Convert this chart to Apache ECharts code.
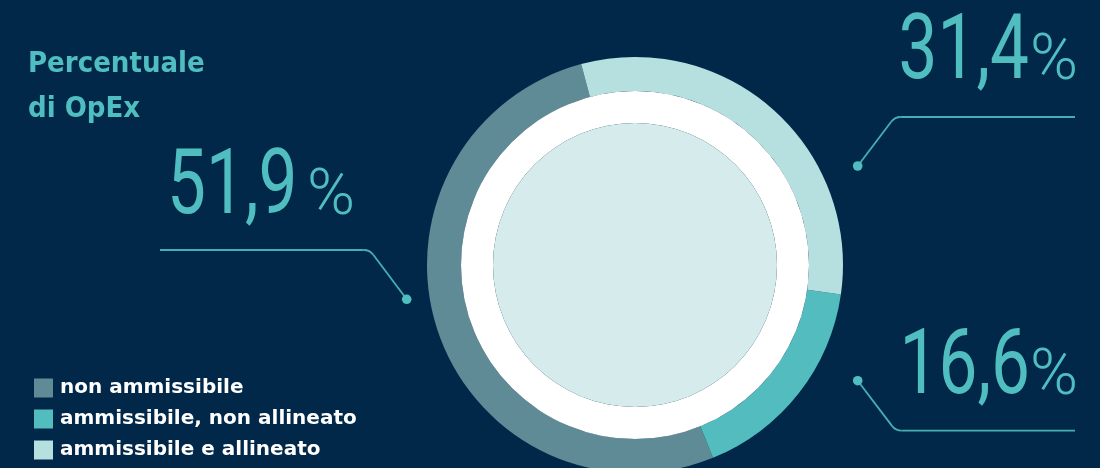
<!DOCTYPE html>
<html>
<head>
<meta charset="utf-8">
<script src="https://cdn.jsdelivr.net/npm/echarts@6/dist/echarts.min.js"></script>
<style>
  html, body { margin: 0; padding: 0; background: #012849; }
  #chart { width: 1100px; height: 468px; }
</style>
</head>
<body>
<div id="chart"></div>
<script>
// ---- data ----
const categories = ['non ammissibile', 'ammissibile, non allineato', 'ammissibile e allineato'];
const values = [51.9, 16.6, 31.4];
const colors = ['#5f8b96', '#52bcbe', '#b6dfe0'];
const titleText = 'Percentuale\ndi OpEx';

const fmt = v => v.toFixed(1).replace('.', ',');
const TEAL = '#50bec0';
const LINE = '#45afb3';

const chart = echarts.init(document.getElementById('chart'), null, { renderer: 'canvas' });

function leader(p0, c0, c, c1, p1, dot) {
  const st = { stroke: LINE, lineWidth: 1.8, fill: null };
  return [
    { type: 'line', silent: true, shape: { x1: p0[0], y1: p0[1], x2: c0[0], y2: c0[1] }, style: st },
    { type: 'bezierCurve', silent: true, shape: { x1: c0[0], y1: c0[1], cpx1: c[0], cpy1: c[1], x2: c1[0], y2: c1[1] }, style: st },
    { type: 'line', silent: true, shape: { x1: c1[0], y1: c1[1], x2: p1[0], y2: p1[1] }, style: st },
    { type: 'circle', silent: true, shape: { cx: dot[0], cy: dot[1], r: 4.8 }, style: { fill: TEAL } }
  ];
}

// big percentage label: digits (condensed) + percent sign, aligned on a common baseline
const NUM_FS = 90, PCT_FS = 65;
function bigLabel(value, numX, pctX, baseline, align) {
  return [
    {
      type: 'text', x: numX, y: baseline + 0.21 * NUM_FS, scaleX: 0.77, silent: true,
      style: {
        text: fmt(value), align: align, verticalAlign: 'bottom',
        fontSize: NUM_FS, lineHeight: NUM_FS, fontFamily: 'Roboto', fontWeight: 400, fill: TEAL
      }
    },
    {
      type: 'text', x: pctX, y: baseline + 0.21 * PCT_FS, silent: true,
      style: {
        text: '%', align: align, verticalAlign: 'bottom',
        fontSize: PCT_FS, lineHeight: PCT_FS, fontFamily: 'Roboto', fontWeight: 300, fill: TEAL
      }
    }
  ];
}

const option = {
  backgroundColor: '#012849',
  animation: false,
  color: colors,
  title: {
    text: titleText,
    left: 28,
    top: 42,
    padding: 0,
    textStyle: { color: TEAL, fontSize: 29, fontWeight: 'bold', fontFamily: 'DejaVu Sans Condensed', lineHeight: 45 }
  },
  legend: {
    data: categories,
    orient: 'vertical',
    left: 34,
    top: 378,
    padding: 0,
    itemWidth: 19,
    itemHeight: 19,
    itemGap: 11,
    icon: 'rect',
    selectedMode: false,
    textStyle: { color: '#ffffff', fontSize: 20, fontWeight: 'bold', fontFamily: 'DejaVu Sans', padding: [0, 0, 0, 2] }
  },
  series: [
    {
      type: 'pie',
      name: 'OpEx',
      center: [635, 265],
      radius: [174, 208],
      clockwise: false,
      startAngle: 105,
      silent: true,
      label: { show: false },
      labelLine: { show: false },
      itemStyle: { borderWidth: 0 },
      data: categories.map((c, i) => ({ name: c, value: values[i] }))
    },
    {
      type: 'pie',
      center: [635, 265],
      radius: [142, 174],
      silent: true,
      label: { show: false },
      labelLine: { show: false },
      itemStyle: { color: '#ffffff' },
      data: [{ name: 'ring', value: 1 }]
    },
    {
      type: 'pie',
      center: [635, 265],
      radius: [0, 142],
      silent: true,
      label: { show: false },
      labelLine: { show: false },
      itemStyle: { color: '#d6ecec' },
      data: [{ name: 'fill', value: 1 }]
    }
  ],
  graphic: [].concat(
    leader([160, 250], [363.7, 250], [369.7, 250], [373.3, 254.8], [406.7, 299.3], [406.7, 299.3]),
    leader([857.7, 166], [891.2, 121.8], [894.8, 117], [900.8, 117], [1075, 117], [857.7, 166]),
    leader([857.7, 380.7], [892, 425.9], [895.6, 430.7], [901.6, 430.7], [1075, 430.7], [857.7, 380.7]),
    bigLabel(values[0], 167, 307, 217, 'left'),
    bigLabel(values[2], 1029, 1078, 82, 'right'),
    bigLabel(values[1], 1030, 1078, 397, 'right')
  )
};
chart.setOption(option);
</script>
</body>
</html>
